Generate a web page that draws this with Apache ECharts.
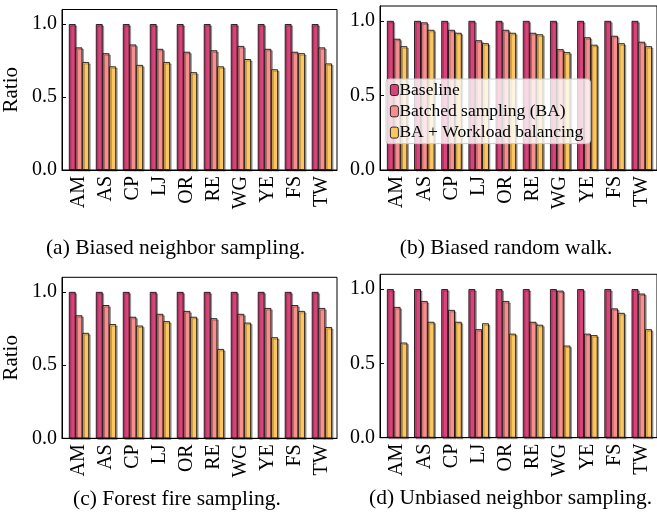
<!DOCTYPE html>
<html>
<head>
<meta charset="utf-8">
<script src="https://cdn.jsdelivr.net/npm/echarts@6/dist/echarts.min.js"></script>
<style>
html,body{margin:0;padding:0;background:#fff;}
#chart{width:657px;height:517px;}
</style>
</head>
<body>
<div id="chart"></div>
<script>
// ---- data ----
const categories = ['AM', 'AS', 'CP', 'LJ', 'OR', 'RE', 'WG', 'YE', 'FS', 'TW'];
const seriesNames = ['Baseline', 'Batched sampling (BA)', 'BA + Workload balancing'];
const yTicks = [0, 0.5, 1.0];
const captions = ['(a) Biased neighbor sampling.', '(b) Biased random walk.', '(c) Forest fire sampling.', '(d) Unbiased neighbor sampling.'];

// (a) Biased neighbor sampling
const aBaseline = [1, 1, 1, 1, 1, 1, 1, 1, 1, 1];
const aBatched  = [0.84, 0.80, 0.86, 0.83, 0.81, 0.82, 0.85, 0.83, 0.81, 0.84];
const aBalanced = [0.74, 0.71, 0.72, 0.74, 0.67, 0.71, 0.76, 0.69, 0.80, 0.73];
// (b) Biased random walk
const bBaseline = [1, 1, 1, 1, 1, 1, 1, 1, 1, 1];
const bBatched  = [0.88, 0.99, 0.94, 0.87, 0.94, 0.92, 0.81, 0.89, 0.90, 0.86];
const bBalanced = [0.83, 0.94, 0.92, 0.85, 0.92, 0.91, 0.79, 0.84, 0.85, 0.83];
// (c) Forest fire sampling
const cBaseline = [1, 1, 1, 1, 1, 1, 1, 1, 1, 1];
const cBatched  = [0.84, 0.91, 0.83, 0.85, 0.87, 0.82, 0.85, 0.89, 0.91, 0.89];
const cBalanced = [0.72, 0.78, 0.77, 0.80, 0.83, 0.61, 0.79, 0.69, 0.87, 0.76];
// (d) Unbiased neighbor sampling
const dBaseline = [1, 1, 1, 1, 1, 1, 1, 1, 1, 1];
const dBatched  = [0.88, 0.92, 0.86, 0.73, 0.92, 0.78, 0.99, 0.70, 0.87, 0.97];
const dBalanced = [0.64, 0.78, 0.78, 0.77, 0.70, 0.76, 0.62, 0.69, 0.84, 0.73];

const panelData = [
  [aBaseline, aBatched, aBalanced],
  [bBaseline, bBatched, bBalanced],
  [cBaseline, cBatched, cBalanced],
  [dBaseline, dBatched, dBalanced]
];

// ---- styling / layout ----
const colors = ['#d8447a', '#f98e8e', '#fec65f'];
const FONT = 'Liberation Serif';
const grids = [
  {left: 60,  top: 9.5,   width: 277, height: 160.5},
  {left: 380, top: 6,     width: 280, height: 164},
  {left: 60,  top: 277.3, width: 277, height: 161},
  {left: 380, top: 274.3, width: 280, height: 163.4}
];
const captionPos = [
  {x: 175.5, y: 237}, {x: 506, y: 237}, {x: 177, y: 488}, {x: 510.5, y: 487}
];
const catIdx = categories.map((c, i) => i);

const option = {
  animation: false,
  backgroundColor: '#fff',
  title: captions.map((t, i) => ({
    text: t,
    left: captionPos[i].x,
    top: captionPos[i].y,
    textAlign: 'center',
    padding: 0,
    textStyle: {fontFamily: FONT, fontSize: 21.5, fontWeight: 'normal', color: '#000'}
  })),
  legend: {
    data: seriesNames,
    orient: 'vertical',
    left: 386,
    top: 79,
    itemWidth: 8,
    itemHeight: 11,
    itemGap: 3.3,
    padding: [2, 7, 2, 4],
    backgroundColor: 'rgba(255,255,255,0.8)',
    borderColor: '#cccccc',
    borderWidth: 1,
    borderRadius: 3,
    itemStyle: {borderColor: '#000', borderWidth: 0.8, shadowBlur: 0, shadowOffsetX: 0, shadowOffsetY: 0, shadowColor: 'transparent'},
    textStyle: {fontFamily: FONT, fontSize: 17.5, color: '#000', lineHeight: 11, padding: [0, 0, 0, -4]}
  },
  grid: grids.map(g => Object.assign({show: true, borderColor: '#000', borderWidth: 1, containLabel: false}, g)),
  xAxis: grids.map((g, i) => ({
    type: 'value',
    gridIndex: i,
    min: -0.63,
    max: 9.56,
    splitLine: {show: false},
    axisLine: {show: true, onZero: false, lineStyle: {color: '#000', width: 1}},
    axisTick: {show: true, inside: true, length: 4, customValues: catIdx, lineStyle: {color: '#000', width: 1}},
    axisLabel: {
      show: true, customValues: catIdx, rotate: 90, margin: 6,
      fontFamily: FONT, fontSize: 20, color: '#000',
      formatter: v => categories[Math.round(v)]
    }
  })),
  yAxis: grids.map((g, i) => ({
    type: 'value',
    gridIndex: i,
    min: 0,
    max: 1.1,
    name: (i % 2 === 0) ? 'Ratio' : '',
    nameLocation: 'middle',
    nameGap: 40,
    nameRotate: 90,
    nameTextStyle: {fontFamily: FONT, fontSize: 21, color: '#000'},
    splitLine: {show: false},
    axisLine: {show: true, onZero: false, lineStyle: {color: '#000', width: 1}},
    axisTick: {show: true, inside: true, length: 4, customValues: yTicks, lineStyle: {color: '#000', width: 1}},
    axisLabel: {
      show: true, customValues: yTicks, margin: 5,
      fontFamily: FONT, fontSize: 20, color: '#000',
      formatter: v => v.toFixed(1)
    }
  })),
  series: []
};

panelData.forEach((panel, p) => {
  panel.forEach((vals, s) => {
    option.series.push({
      type: 'bar',
      name: seriesNames[s],
      xAxisIndex: p,
      yAxisIndex: p,
      barWidth: '25%',
      barGap: '0%',
      data: vals.map((v, i) => [i, v]),
      itemStyle: {
        color: colors[s],
        borderColor: '#000',
        borderWidth: 0.8,
        shadowColor: 'rgba(0,0,0,0.35)',
        shadowBlur: 0,
        shadowOffsetX: 1.5,
        shadowOffsetY: 1.5
      }
    });
  });
});

const chart = echarts.init(document.getElementById('chart'), null, {renderer: 'canvas'});
chart.setOption(option);
</script>
</body>
</html>
